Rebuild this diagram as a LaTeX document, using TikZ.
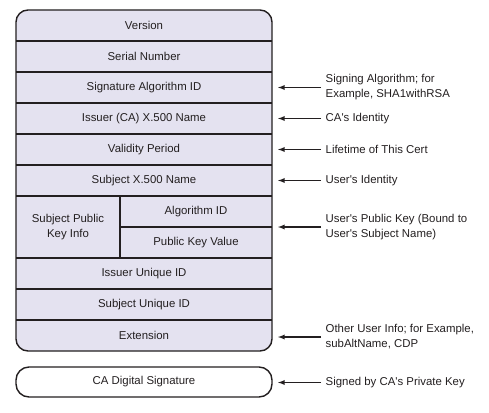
\documentclass[tikz,border=0pt]{standalone}
\usepackage{fontspec}
\setmainfont{Liberation Sans}
\usepackage{tikz}
\usetikzlibrary{arrows}
\usepackage{xcolor}
\definecolor{certfill}{HTML}{E4E2F0}
\definecolor{certline}{HTML}{231F20}

\begin{document}
\begin{tikzpicture}[x=1pt, y=-1pt, color=certline, line width=1.4,
		field/.style={font=\fontsize{11.4}{14}\selectfont, inner sep=0},
		note/.style={font=\fontsize{11.4}{15}\selectfont, anchor=west, align=left, inner sep=4pt},
		arr/.style={-latex, line width=1.3}]
		\useasboundingbox (0,0) rectangle (489,412);
		% certificate body
		\draw[fill=certfill, rounded corners=12pt] (16,10) rectangle (272,351);
		\foreach \y in {41,72,103,134,165,196,258,289,320}
			\draw (16,\y) -- (272,\y);
		\draw (120,196) -- (120,258);
		\draw (120,227) -- (272,227);
		\node[field] (ver) at (144,25.5) {Version};
		\node[field] (ser) at (144,56.5) {Serial Number};
		\node[field] (sig) at (144,87.5) {Signature Algorithm ID};
		\node[field] (iss) at (144,118.5) {Issuer (CA) X.500 Name};
		\node[field] (val) at (144,149.5) {Validity Period};
		\node[field] (sub) at (144,180.5) {Subject X.500 Name};
		\node[field, align=center, font=\fontsize{11.4}{15}\selectfont] (spki) at (68,227) {Subject Public\\Key Info};
		\node[field] (alg) at (196,211.5) {Algorithm ID};
		\node[field] (pkv) at (196,242.5) {Public Key Value};
		\node[field] (iuid) at (144,273.5) {Issuer Unique ID};
		\node[field] (suid) at (144,304.5) {Subject Unique ID};
		\node[field] (ext) at (144,335.5) {Extension};
		% signature
		\draw[rounded corners=13pt] (16,367) rectangle (272,397);
		\node[field] (casig) at (144,382) {CA Digital Signature};
		% notes
		\coordinate (tip) at (278,0);
		\node[note] (sigN) at (321,87.5) {Signing Algorithm; for\\Example, SHA1withRSA};
		\node[note] (issN) at (321,118.5) {CA\textquotesingle s Identity};
		\node[note] (valN) at (321,149.5) {Lifetime of This Cert};
		\node[note] (subN) at (321,180.5) {User\textquotesingle s Identity};
		\node[note] (spkiN) at (321,227) {User\textquotesingle s Public Key (Bound to\\User\textquotesingle s Subject Name)};
		\node[note] (extN) at (321,337) {Other User Info; for Example,\\subAltName, CDP};
		\node[note] (casigN) at (321,382.5) {Signed by CA\textquotesingle s Private Key};
		\foreach \n in {sigN,issN,valN,subN,spkiN,extN,casigN}
			\draw[arr] (\n.west) -- (\n.west -| tip);
	\end{tikzpicture}
\end{document}
